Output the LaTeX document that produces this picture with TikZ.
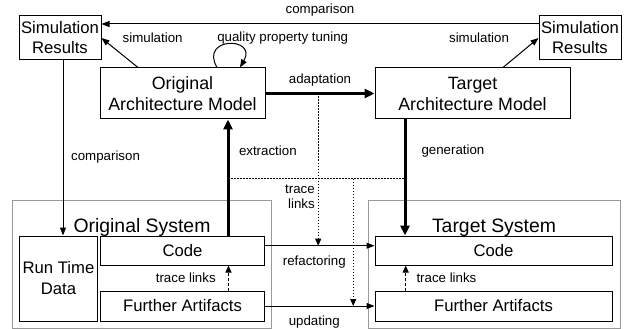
\documentclass[tikz,border=0pt]{standalone}
\usepackage{fontspec}
\setmainfont{Liberation Sans}
\usetikzlibrary{positioning,arrows.meta}
\tikzset{box/.style={draw,on grid,line width=1pt,inner sep=0pt,align=center,font=\fontsize{16.7}{20}\selectfont}}
\tikzset{archbox/.style={box,minimum height=51pt,font=\fontsize{17.8}{21}\selectfont}}
\tikzset{simbox/.style={box,minimum width=82pt,minimum height=44pt}}
\tikzset{system/.style={draw=black!40,on grid,line width=1pt,minimum height=127pt}}
\tikzset{systitle/.style={on grid,inner sep=0pt,font=\fontsize{19.4}{22}\selectfont}}
\tikzset{flow/.style={-{Triangle[length=8pt,width=6pt]},line width=1pt}}
\tikzset{bigflow/.style={-{Triangle[length=10pt,width=9pt]},line width=3pt}}
\tikzset{tracepath/.style={line width=1pt,dash pattern=on 1.5pt off 1.5pt}}
\tikzset{tracelink/.style={tracepath,-{Triangle[length=7pt,width=6pt]}}}
\tikzset{innerlink/.style={-{Triangle[length=7pt,width=6pt]},line width=1pt,dash pattern=on 3pt off 2pt}}
\tikzset{elabel/.style={inner sep=2pt,font=\fontsize{13.3}{15.5}\selectfont}}

\begin{document}
\begin{tikzpicture}
  \useasboundingbox (0,0) rectangle (625pt,-329pt);
  % models and simulation results
  \node[archbox,minimum width=165pt] (orig) at (182.5pt,-93.5pt) {Original\\Architecture Model};
  \node[archbox,minimum width=195pt] (targ) [right=290pt of orig] {Target\\Architecture Model};
  \node[simbox] (simL) [above left=55.5pt and 122.5pt of orig] {Simulation\\Results};
  \node[simbox] (simR) [above right=55.5pt and 107.5pt of targ] {Simulation\\Results};
  % systems
  \node[box,minimum width=164pt,minimum height=29pt] (ocode) [below=157pt of orig] {Code};
  \node[box,minimum width=164pt,minimum height=30pt] (ofa) [below=55.5pt of ocode] {Further Artifacts};
  \node[box,minimum width=78pt,minimum height=85pt,font=\fontsize{16.7}{21}\selectfont] (rtd) [below left=28pt and 124pt of ocode] {Run Time\\Data};
  \node[box,minimum width=237pt,minimum height=29pt] (tcode) [below right=157pt and 21pt of targ] {Code};
  \node[box,minimum width=237pt,minimum height=30pt] (tfa) [below=55.5pt of tcode] {Further Artifacts};
  \node[system,minimum width=259pt] (osys) [below left=14pt and 40.5pt of ocode] {};
  \node[system,minimum width=252pt] (tsys) [below right=14pt and 0.5pt of tcode] {};
  \node[systitle] (otitle) [below=18pt of osys.north] {Original System};
  \node[systitle] (ttitle) [below=18pt of tsys.north] {Target System};
  % helper points
  \coordinate (cmp) at ([xshift=3pt]simL.south);
  \coordinate (refac) at ([yshift=4.8pt]ocode.east);
  \coordinate (extr) at ([xshift=45.5pt]ocode.north);
  \coordinate (gen) at ([xshift=-67.5pt]targ.south);
  \coordinate (tlL) at ([yshift=56.7pt]extr);
  \coordinate (tlR) at (tlL -| gen);
  \coordinate (tlM) at ([xshift=125.2pt]tlL);
  \coordinate (tlA) at ([xshift=52.7pt]orig.east);
  \coordinate (otl) at ([xshift=46pt]ofa.north);
  \coordinate (ttl) at ([xshift=-87.8pt]tfa.north);
  \path[flow]
    ([yshift=14pt]simR.west) edge node[elabel,above=5pt]{comparison} ([yshift=14pt]simL.east)
    ([xshift=-44.5pt]orig.north) edge node[elabel,pos=1,anchor=west,xshift=18.7pt]{simulation} (simL.east)
    ([xshift=30.5pt]targ.north) edge node[elabel,pos=1,anchor=east,xshift=-27pt]{simulation} (simR.west)
    ([xshift=34.5pt]orig.north) edge[out=120,in=60,looseness=4]
      node[elabel,anchor=base west,xshift=-13.7pt,yshift=3.1pt]{quality property tuning} ([xshift=57.5pt]orig.north)
    (cmp) edge node[elabel,pos=0.55,right=5.7pt]{comparison} (cmp |- rtd.north)
    (refac) edge node[elabel,pos=0.45,below=7.8pt]{refactoring} (refac -| tcode.west)
    (ofa.east) edge node[elabel,pos=0.45,below=7.5pt]{updating} (tfa.west);
  \path[bigflow]
    (orig.east) edge node[elabel,above=4pt]{adaptation} (targ.west)
    (extr) edge node[elabel,pos=0.73,right=7.5pt]{extraction} (extr |- orig.south)
    (gen) edge node[elabel,pos=0.27,right=13pt]{generation} (gen |- tcode.north);
  % trace links
  \draw[tracepath] (tlL) -- (tlR);
  \path[tracelink]
    (tlA) edge node[elabel,pos=0.68,left=1pt,align=right]{trace\\links} (tlA |- refac)
    (tlM) edge (tlM |- ofa.east);
  \path[innerlink]
    (otl) edge node[elabel,left=10.3pt]{trace links} (otl |- ocode.south)
    (ttl) edge node[elabel,right=8.3pt]{trace links} (ttl |- tcode.south);
\end{tikzpicture}
\end{document}
